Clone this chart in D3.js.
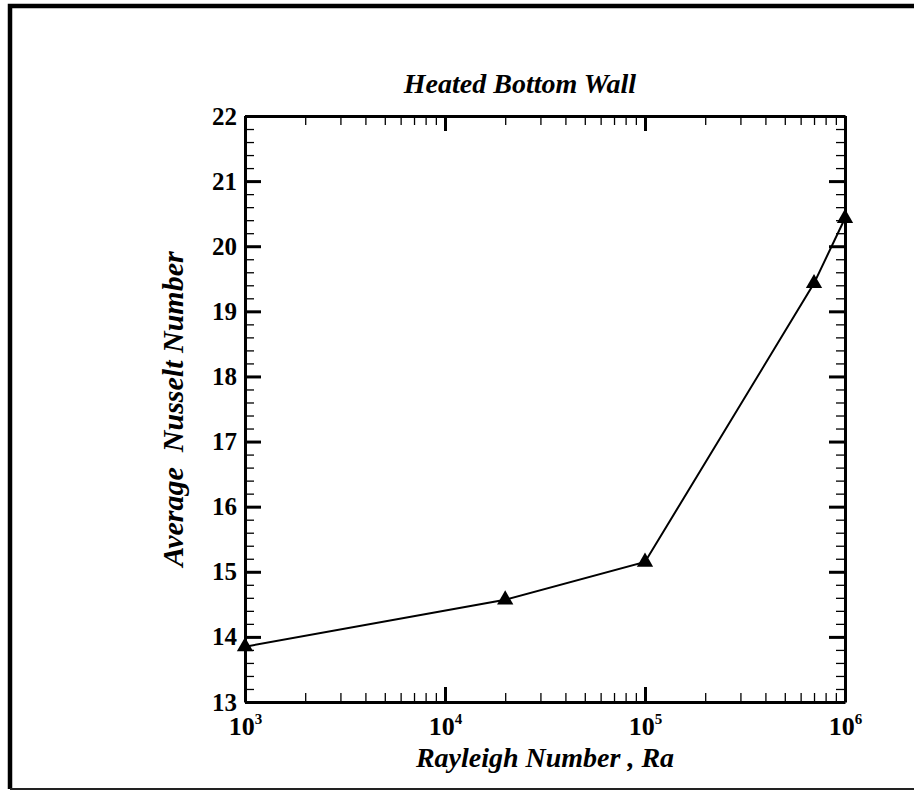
<!DOCTYPE html>
<html>
<head>
<meta charset="utf-8">
<script src="https://cdn.jsdelivr.net/npm/d3@7"></script>
<style>
  body { margin: 0; background: #fff; }
  svg { display: block; font-family: "Liberation Serif", "Times New Roman", serif; font-weight: bold; }
  .axis path { stroke: #000; stroke-width: 3; }
  .major line { stroke: #000; stroke-width: 3; }
  .minor line { stroke: #000; stroke-width: 1.3; }
</style>
</head>
<body>
<svg width="914" height="791"></svg>
<script>
var rayleigh = [1e3, 2e4, 1e5, 7e5, 1e6];
var nusselt = [13.85, 14.57, 15.15, 19.43, 20.43];

var xMajor = [1e3, 1e4, 1e5, 1e6];
var xExp = ["3", "4", "5", "6"];
var yMajor = [13, 14, 15, 16, 17, 18, 19, 20, 21, 22];

var svg = d3.select("svg"),
  margin = { top: 116, right: 69, bottom: 89, left: 245 },
  width = +svg.attr("width") - margin.left - margin.right,
  height = +svg.attr("height") - margin.top - margin.bottom;

// outer frame (right edge cropped in the original)
svg.append("path")
  .attr("d", "M920,6H10V789")
  .attr("fill", "none")
  .attr("stroke", "#000")
  .attr("stroke-width", 4.5);
svg.append("line")
  .attr("x1", 10).attr("x2", 920)
  .attr("y1", 789).attr("y2", 789)
  .attr("stroke", "#222")
  .attr("stroke-width", 2);

var x = d3.scaleLog().domain([1e3, 1e6]).range([0, width]),
  y = d3.scaleLinear().domain([13, 22]).range([height, 0]);

var g = svg.append("g")
  .attr("transform", "translate(" + margin.left + "," + margin.top + ")");

var xMinor = [];
[1e3, 1e4, 1e5].forEach(function (d) {
  for (var k = 2; k <= 9; k++) xMinor.push(d * k);
});
var yMinor = d3.range(13, 22.001, 0.2).filter(function (v) {
  return Math.abs(v - Math.round(v)) > 0.01;
});

// minor ticks on all four sides
g.append("g").attr("class", "minor").attr("transform", "translate(0," + height + ")")
  .call(d3.axisBottom(x).tickValues(xMinor).tickSize(-9).tickFormat(""))
  .select(".domain").remove();
g.append("g").attr("class", "minor")
  .call(d3.axisTop(x).tickValues(xMinor).tickSize(-9).tickFormat(""))
  .select(".domain").remove();
g.append("g").attr("class", "minor")
  .call(d3.axisLeft(y).tickValues(yMinor).tickSize(-9).tickFormat(""))
  .select(".domain").remove();
g.append("g").attr("class", "minor").attr("transform", "translate(" + width + ",0)")
  .call(d3.axisRight(y).tickValues(yMinor).tickSize(-9).tickFormat(""))
  .select(".domain").remove();

// major ticks
var xb = g.append("g").attr("class", "axis major").attr("transform", "translate(0," + height + ")")
  .call(d3.axisBottom(x).tickValues(xMajor).tickSize(-15).tickSizeOuter(0).tickPadding(28));
g.append("g").attr("class", "axis major")
  .call(d3.axisTop(x).tickValues(xMajor).tickSize(-15).tickSizeOuter(0).tickFormat(""));
g.append("g").attr("class", "axis major")
  .call(d3.axisLeft(y).tickValues(yMajor).tickSize(-16).tickSizeOuter(0).tickPadding(8)
    .tickFormat(d3.format("d")));
g.append("g").attr("class", "axis major").attr("transform", "translate(" + width + ",0)")
  .call(d3.axisRight(y).tickValues(yMajor).tickSize(-16).tickSizeOuter(0).tickFormat(""));

g.selectAll(".axis").attr("font-size", null).attr("font-family", null);
g.selectAll(".axis text")
  .style("font-family", "'Liberation Serif', 'Times New Roman', serif")
  .style("font-weight", "bold")
  .style("font-size", "25px")
  .attr("fill", "#000");

xb.selectAll(".tick text").each(function (d, i) {
  var t = d3.select(this).text(null).attr("dy", "0.2em").style("font-size", "26px");
  t.append("tspan").text("10");
  t.append("tspan").attr("dy", "-0.75em").style("font-size", "15px").text(xExp[i]);
});

// data line and markers
var line = d3.line()
  .x(function (d, i) { return x(rayleigh[i]); })
  .y(function (d) { return y(d); });

g.append("path")
  .datum(nusselt)
  .attr("d", line)
  .attr("fill", "none")
  .attr("stroke", "#000")
  .attr("stroke-width", 2);

g.selectAll(".marker")
  .data(nusselt)
  .enter()
  .append("path")
  .attr("class", "marker")
  .attr("d", d3.symbol().type(d3.symbolTriangle).size(115))
  .attr("transform", function (d, i) {
    return "translate(" + x(rayleigh[i]) + "," + y(d) + ")";
  })
  .attr("fill", "#000");

// titles
svg.append("text")
  .attr("x", 520)
  .attr("y", 93)
  .attr("text-anchor", "middle")
  .style("font-style", "italic")
  .style("font-size", "28px")
  .text("Heated Bottom Wall");

svg.append("text")
  .attr("x", 545)
  .attr("y", 767)
  .attr("text-anchor", "middle")
  .style("font-style", "italic")
  .style("font-size", "28px")
  .text("Rayleigh Number , Ra");

svg.append("text")
  .attr("transform", "translate(183,409) rotate(-90)")
  .attr("text-anchor", "middle")
  .style("font-style", "italic")
  .style("font-size", "30px")
  .style("white-space", "pre")
  .text("Average  Nusselt Number");
</script>
</body>
</html>
